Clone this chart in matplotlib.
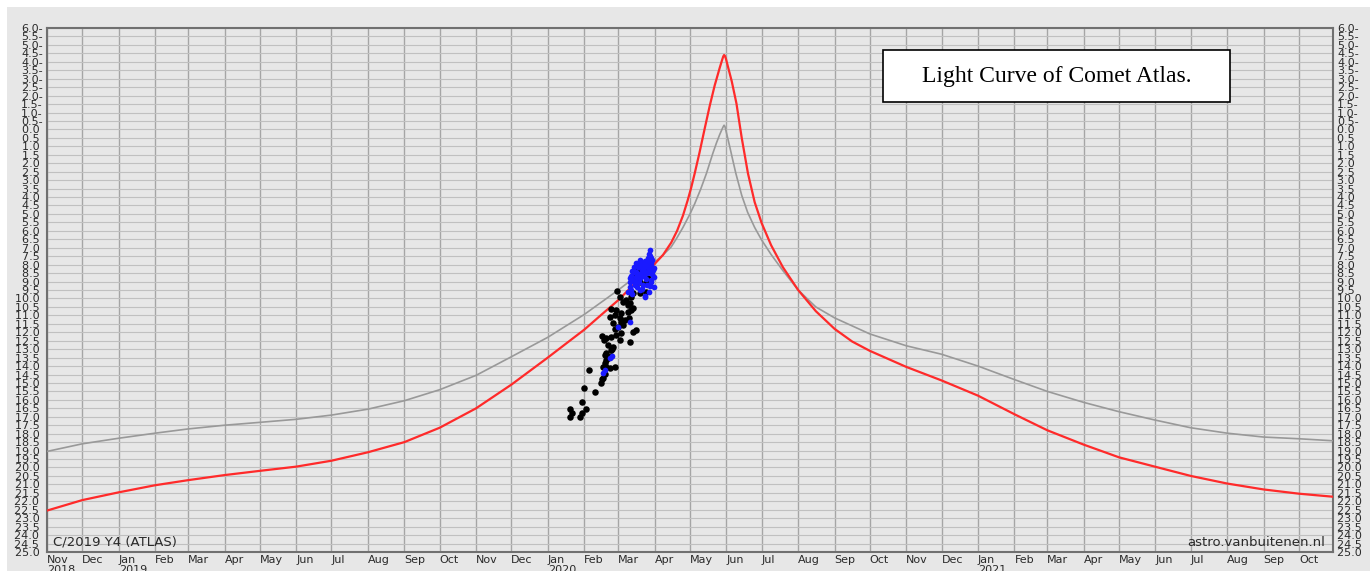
import matplotlib
matplotlib.use("Agg")
import matplotlib.pyplot as plt
import matplotlib.dates as mdates
from matplotlib.patches import Rectangle
import numpy as np
from datetime import datetime

# Model light curves: days after 2020-01-01, magnitude
grey_day = [-426, -396, -365, -334, -306, -275, -245, -214, -184, -153, -122, -92,
            -61, -31, 0, 31, 60, 75, 91, 98, 105, 110, 115, 121, 125, 130,
            135, 140.4, 143.5, 146.3, 148.5, 149.4, 150, 150.7, 151.5, 154.8, 157.5, 160, 165, 170,
            176, 182, 190, 200, 213, 228, 244, 274, 305, 335, 366, 397,
            425, 456, 486, 517, 547, 578, 609, 639, 668]
grey_mag = [19.05, 18.6, 18.27, 17.97, 17.72, 17.5, 17.33, 17.15, 16.9, 16.55, 16.05, 15.4,
            14.55, 13.45, 12.3, 10.95, 9.5, 8.7, 7.85, 7.43, 6.95, 6.4, 5.8, 5.0, 4.4, 3.55,
            2.6, 1.42, 0.8, 0.3, -0.05, -0.18, -0.25, -0.18, 0.05, 1.02, 1.85, 2.6, 3.9, 4.9,
            5.8, 6.55, 7.4, 8.35, 9.5, 10.5, 11.15, 12.1, 12.8, 13.3, 14.0, 14.8,
            15.5, 16.15, 16.7, 17.2, 17.65, 17.97, 18.2, 18.3, 18.42]

red_day = [-426, -396, -365, -334, -306, -275, -245, -214, -184, -153, -122, -92,
           -61, -31, 0, 15, 31, 45, 60, 75, 91, 98, 105, 110, 115, 119, 122,
           125, 129, 133.5, 137.8, 142, 146.3, 148.5, 149.3, 150, 150.7, 151.5, 153.3, 156.5, 160.5,
           165, 170.3, 176, 182, 190, 200, 213, 228, 244, 259, 274, 305, 335,
           366, 397, 425, 456, 486, 517, 547, 578, 609, 639, 668]
red_mag = [22.55, 21.93, 21.47, 21.05, 20.75, 20.45, 20.2, 19.95, 19.6, 19.1, 18.5, 17.65,
           16.5, 15.1, 13.5, 12.7, 11.85, 11.0, 10.1, 9.05, 7.95, 7.43, 6.7, 6.0, 5.1, 4.2, 3.45,
           2.6, 1.4, -0.05, -1.4, -2.6, -3.65, -4.15, -4.32, -4.4, -4.35, -4.2, -3.71, -2.85, -1.54,
           0.5, 2.6, 4.3, 5.55, 6.85, 8.15, 9.5, 10.75, 11.8, 12.55, 13.1, 14.05, 14.85,
           15.75, 16.85, 17.8, 18.65, 19.4, 19.96, 20.5, 20.95, 21.3, 21.55, 21.73]

# Observations: days after 2020-01-01, magnitude
black_day = [19.3, 20.7, 19.3, 27.2, 29.2, 32.9, 29.2, 30.6, 40.0, 35.1,
             45.6, 46.5, 47.1, 48.5, 47.1, 49.9, 52.7, 57.0, 48.5, 49.9,
             51.3, 52.7, 54.1, 49.9, 53.6, 55.0, 55.6, 51.3, 48.5, 47.6,
             49.9, 54.1, 46.5, 61.2, 69.7, 58.4, 62.6, 75.4, 72.6, 57.0,
             59.8, 64.1, 55.6, 62.6, 65.5, 69.2, 61.2, 53.3, 57.0, 62.6,
             68.3, 71.1, 72.6, 58.4, 54.1, 68.3, 69.7, 64.1, 66.9, 61.2,
             59.0, 72.6, 78.2, 83.9, 71.1, 75.4, 78.2, 83.9, 81.1, 74.0,
             76.8, 82.5, 72.6, 85.3]
black_mag = [16.55, 16.8, 17.04, 17.0, 16.76, 16.56, 16.15, 15.32, 15.52, 14.24,
             14.99, 14.79, 14.69, 14.47, 14.04, 14.08, 14.14, 14.08, 13.84, 13.65,
             13.55, 13.49, 13.41, 13.25, 13.05, 12.97, 12.86, 12.76, 13.35, 12.46,
             12.32, 12.26, 12.22, 12.46, 12.56, 12.17, 12.07, 11.87, 11.97, 11.83,
             11.67, 11.57, 11.48, 11.38, 11.28, 11.18, 11.18, 11.08, 10.98, 10.88,
             10.79, 10.69, 10.59, 10.69, 10.61, 10.39, 10.29, 10.19, 10.09, 9.90,
             9.54, 9.66, 9.70, 9.60, 9.90, 9.11, 9.01, 9.11, 8.52, 8.62,
             8.32, 8.32, 8.87, 8.81]

blue_day = [86.7, 86.2, 85.3, 88.2, 78.2, 82.5, 86.7, 75.4, 79.7, 83.9,
            88.2, 73.1, 77.7, 81.6, 86.2, 89.6, 72.0, 75.4, 79.7, 84.5,
            89.0, 71.1, 74.8, 78.2, 83.3, 88.2, 70.3, 74.0, 81.1, 86.7,
            69.7, 82.5, 59.8, 69.7, 55.0, 52.7, 47.1, 48.5, 82.5, 78.2,
            72.0, 76.0, 80.0, 84.0, 88.0, 74.0, 78.0, 82.0, 86.0, 90.0,
            70.0, 73.0, 77.0, 81.0, 85.0, 87.0, 89.0, 83.0, 79.0, 75.0,
            71.0, 76.0, 80.0, 84.0, 88.0, 90.0, 68.5, 72.0, 86.0, 90.0]
blue_mag = [7.14, 7.37, 7.63, 7.63, 7.73, 7.77, 7.89, 7.92, 7.96, 8.02,
            8.08, 8.12, 8.16, 8.22, 8.28, 8.32, 8.36, 8.42, 8.48, 8.52,
            8.56, 8.67, 8.75, 8.81, 8.87, 8.91, 9.01, 9.11, 9.21, 9.27,
            9.31, 9.86, 11.67, 11.38, 13.41, 13.55, 14.43, 14.24, 9.9, 9.5,
            8.9, 8.6, 8.3, 8.1, 7.9, 9.2, 9.0, 8.7, 8.4, 8.2,
            8.8, 8.45, 8.15, 7.95, 7.75, 7.5, 7.7, 8.45, 8.7, 8.95,
            9.5, 9.35, 9.45, 9.2, 9.0, 8.75, 9.6, 9.75, 9.6, 9.3]

month_abbr = ['Jan', 'Feb', 'Mar', 'Apr', 'May', 'Jun', 'Jul', 'Aug', 'Sep', 'Oct', 'Nov', 'Dec']

bg = '#e7e7e7'
fig = plt.figure(figsize=(13.7, 5.71), dpi=100, facecolor='white')
fig.add_artist(Rectangle((7 / 1370, 0), 1, (571 - 7) / 571, transform=fig.transFigure,
                         facecolor=bg, edgecolor='none', zorder=-10))
ax = fig.add_axes([47 / 1370, 1 - 552 / 571, (1333 - 47) / 1370, (552 - 28) / 571])
ax.set_facecolor(bg)

t0 = mdates.date2num(datetime(2020, 1, 1))
ax.plot(t0 + np.array(grey_day), grey_mag, color='#999999', lw=1.2, zorder=3)
ax.plot(t0 + np.array(red_day), red_mag, color='#ff2a2a', lw=1.6, zorder=4)

ax.scatter(t0 + np.array(black_day), black_mag, s=22, color='black', lw=0, zorder=5)
ax.scatter(t0 + np.array(blue_day), blue_mag, s=17, color='#1a1aff', lw=0, zorder=6)

# axes ranges
ax.set_xlim(mdates.date2num(datetime(2018, 11, 1)), mdates.date2num(datetime(2021, 10, 30)))
ax.set_ylim(25, -6)

# y ticks every 0.5 mag, negative values written with trailing dash
yt = np.arange(-6, 25.01, 0.5)
ylabels = [f"{abs(v):.1f}-" if v < 0 else f"{v:.1f} " for v in yt]
ax.set_yticks(yt)
ax.set_yticklabels(ylabels)
ax.tick_params(axis='y', length=0, pad=3, labelsize=8, labelcolor='#2a2a2a',
               left=True, right=True, labelleft=True, labelright=True)

# month ticks
months = []
labels = []
y, m = 2018, 11
while (y, m) <= (2021, 10):
    months.append(mdates.date2num(datetime(y, m, 1)))
    lab = month_abbr[m - 1]
    if (y, m) == (2018, 11) or m == 1:
        lab += f"\n{y}"
    labels.append(lab)
    m += 1
    if m > 12:
        m, y = 1, y + 1
ax.set_xticks(months)
ax.set_xticklabels(labels)
for t in ax.get_xticklabels():
    t.set_ha('left')
    t.set_multialignment('left')
    t.set_linespacing(1.0)
ax.tick_params(axis='x', length=0, pad=2, labelsize=8, labelcolor='#2a2a2a')

ax.grid(axis='x', color='#a5a5a5', lw=1.0, zorder=1)
ax.grid(axis='y', color='#c0c0c0', lw=0.8, zorder=1)
ax.set_axisbelow(True)
for s in ax.spines.values():
    s.set_color('#707070')
    s.set_linewidth(1.5)

ax.text(0.005, 0.006, 'C/2019 Y4 (ATLAS)', transform=ax.transAxes, fontsize=9.5,
        color='#2a2a2a', ha='left', va='bottom', zorder=7)
ax.text(0.994, 0.006, 'astro.vanbuitenen.nl', transform=ax.transAxes, fontsize=9.5,
        color='#2a2a2a', ha='right', va='bottom', zorder=7)

# title box
ax.add_patch(Rectangle((0.650, 0.859), 0.270, 0.099, transform=ax.transAxes,
                       facecolor='white', edgecolor='black', lw=1.2, zorder=8))
ax.text(0.785, 0.908, 'Light Curve of Comet Atlas.', transform=ax.transAxes,
        family='Liberation Serif', fontsize=17, ha='center', va='center', zorder=9)

fig.savefig('out.png', dpi=100, facecolor=fig.get_facecolor())
